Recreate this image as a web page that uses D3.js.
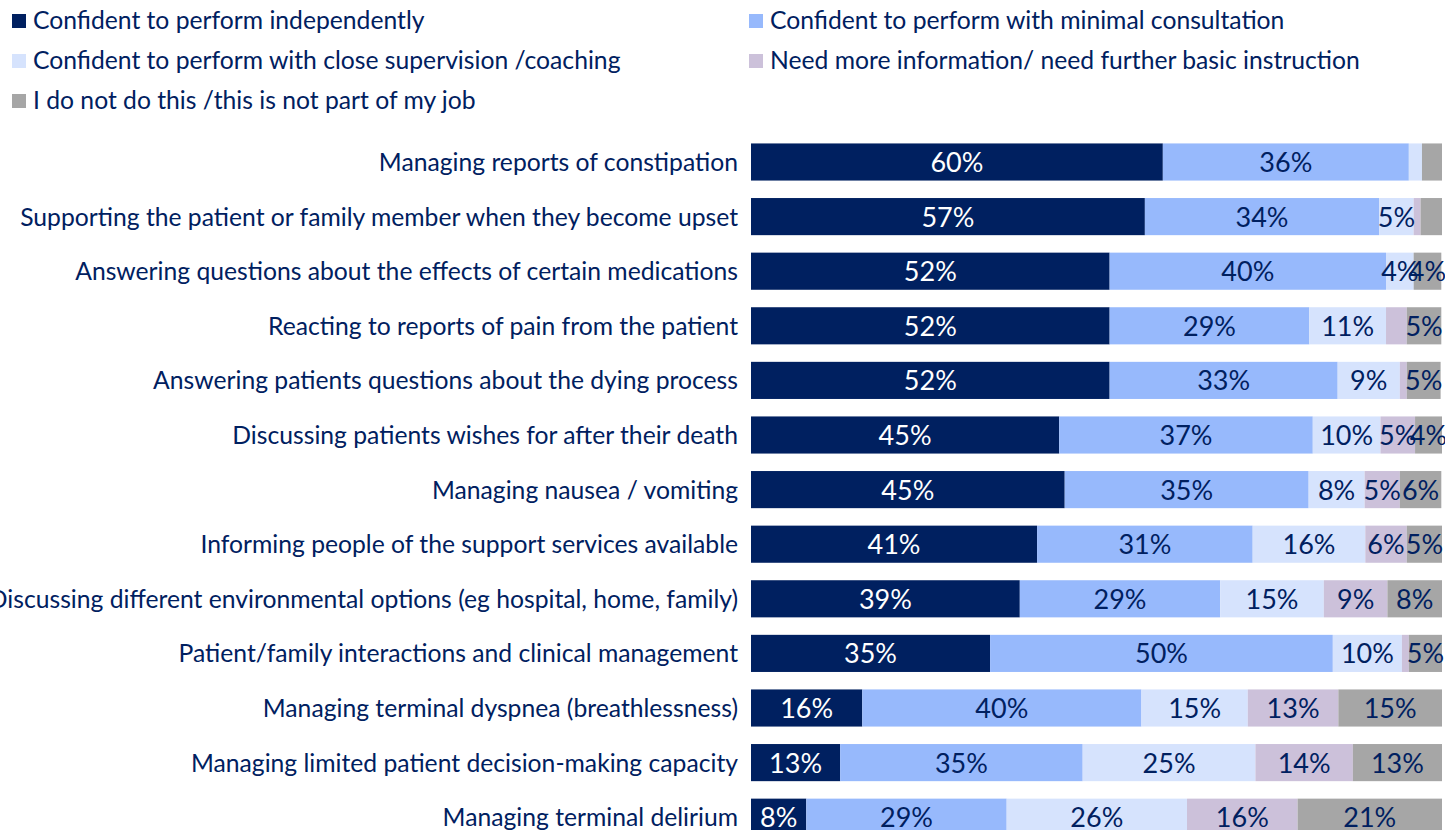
<!DOCTYPE html>
<html>
<head>
<meta charset="utf-8">
<script src="https://cdn.jsdelivr.net/npm/d3@7"></script>
<style>
  body { margin: 0; background: #fff; }
  svg { display: block; overflow: hidden; font-family: Lato, "Open Sans", sans-serif; }
</style>
</head>
<body>
<script>
var svg_width  = 1445;
var svg_height = 830;

// categories, top to bottom
var categories = [
  "Managing reports of constipation",
  "Supporting the patient or family member when they become upset",
  "Answering questions about the effects of certain medications",
  "Reacting to reports of pain from the patient",
  "Answering patients questions about the dying process",
  "Discussing patients wishes for after their death",
  "Managing nausea / vomiting",
  "Informing people of the support services available",
  "Discussing different environmental options (eg hospital, home, family)",
  "Patient/family interactions and clinical management",
  "Managing terminal dyspnea (breathlessness)",
  "Managing limited patient decision-making capacity",
  "Managing terminal delirium"
];

var seriesNames = [
  "Confident to perform independently",
  "Confident to perform with minimal consultation",
  "Confident to perform with close supervision /coaching",
  "Need more information/ need further basic instruction",
  "I do not do this /this is not part of my job"
];

// percentages, one array per series
var independently = [59.6, 57.0, 51.9, 51.9, 51.9, 44.6, 45.4, 41.4, 38.9, 34.6, 16.1, 12.9, 8.0];
var minimal       = [35.6, 33.9, 40.0, 28.9, 33.0, 36.7, 35.3, 31.2, 29.0, 49.6, 40.4, 35.1, 29.0];
var supervision   = [ 1.9,  5.0,  4.0, 11.1,  9.0,  9.8,  8.1, 16.3, 15.0, 10.0, 15.4, 25.0, 26.1];
var moreInfo      = [ 0.0,  1.0,  0.0,  3.0,  1.0,  5.0,  5.1,  6.0,  9.2,  1.0, 13.1, 14.1, 16.0];
var notMyJob      = [ 2.9,  3.1,  4.0,  5.0,  4.9,  3.9,  6.0,  5.1,  7.9,  4.8, 15.0, 12.9, 20.9];

var colors     = ["#002060", "#97b9fc", "#d6e3fd", "#ccc1da", "#a6a6a6"];
var textColors = ["#ffffff", "#002060", "#002060", "#002060", "#002060"];
var navy = "#002060";

var seriesValues = [independently, minimal, supervision, moreInfo, notMyJob];

var rows = categories.map(function(c, i) {
  var r = {category: c};
  seriesNames.forEach(function(s, j) { r[s] = seriesValues[j][i]; });
  return r;
});

var stacked = d3.stack().keys(seriesNames)(rows);

var svg = d3.select('body').append('svg')
            .attr('width', svg_width)
            .attr('height', svg_height);

var x = d3.scaleLinear()
          .domain([0, 100])
          .range([751, 1442]);

var y = d3.scaleBand()
          .domain(categories)
          .range([134.7, 134.7 + 13 * 54.6])
          .paddingInner(0.32)
          .paddingOuter(0.16);

// legend
var legend = svg.append("g").attr("class", "legend");
var legendPos = [[12, 14], [749, 14], [12, 54], [749, 54], [12, 94]];
seriesNames.forEach(function(name, i) {
  var g = legend.append("g")
                .attr("transform", "translate(" + legendPos[i][0] + "," + legendPos[i][1] + ")");
  g.append("rect")
   .attr("width", 14)
   .attr("height", 14)
   .attr("fill", colors[i]);
  g.append("text")
   .attr("x", 21)
   .attr("y", 15)
   .attr("fill", navy)
   .style("font-size", "24.7px")
   .text(name);
});

// bars
var layer = svg.append("g")
               .attr("class", "bars")
               .selectAll("g")
               .data(stacked)
               .enter().append("g")
               .attr("fill", function(d, i) { return colors[i]; });

layer.selectAll("rect")
     .data(function(d) { return d; })
     .enter().append("rect")
     .attr("x", function(d) { return x(d[0]); })
     .attr("y", function(d) { return y(d.data.category); })
     .attr("width", function(d) { return x(d[1]) - x(d[0]); })
     .attr("height", y.bandwidth());

// value labels
var fmt = function(v) { return Math.round(v) + "%"; };
stacked.forEach(function(s, i) {
  svg.append("g")
     .selectAll("text")
     .data(s.filter(function(d) { return d[1] - d[0] >= 3.5; }))
     .enter().append("text")
     .attr("x", function(d) { return (x(d[0]) + x(d[1])) / 2; })
     .attr("y", function(d) { return y(d.data.category) + y.bandwidth() / 2 + 10; })
     .attr("text-anchor", "middle")
     .attr("fill", textColors[i])
     .style("font-size", "27px")
     .text(function(d) { return fmt(d[1] - d[0]); });
});

// category axis
var yAxis = svg.append("g")
               .attr("transform", "translate(751,0)")
               .call(d3.axisLeft(y).tickSize(0).tickPadding(13));
yAxis.select(".domain").remove();
yAxis.selectAll("text")
     .attr("fill", navy)
     .attr("dy", "0.36em")
     .style("font-family", "Lato, 'Open Sans', sans-serif")
     .style("font-size", "24.7px");
</script>
</body>
</html>
